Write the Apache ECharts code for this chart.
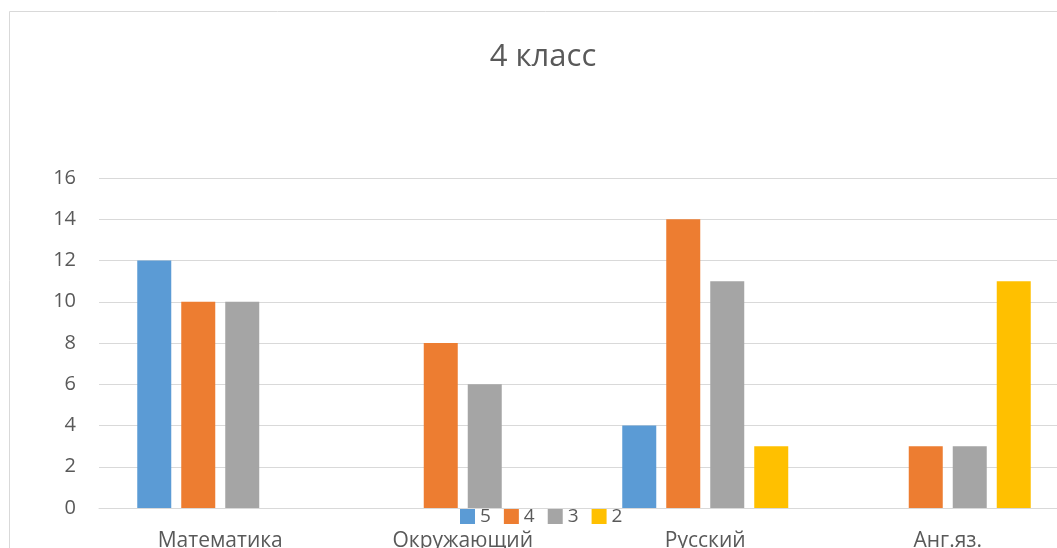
<!DOCTYPE html>
<html>
<head>
<meta charset="utf-8">
<script src="https://cdn.jsdelivr.net/npm/echarts@6/dist/echarts.min.js"></script>
<style>
html,body{margin:0;padding:0;overflow:hidden;background:#fff;}
#c{width:1080px;height:548px;}
</style>
</head>
<body>
<div id="c"></div>
<script>
const categories = ['Математика', 'Окружающий', 'Русский', 'Анг.яз.'];
const seriesNames = ['5', '4', '3', '2'];
const grade5 = [12, 0, 4, 0];
const grade4 = [10, 8, 14, 3];
const grade3 = [10, 6, 11, 3];
const grade2 = [0, 0, 3, 11];
const yTicks = { min: 0, max: 16, interval: 2 };
const colors = ['#5B9BD5', '#ED7D31', '#A5A5A5', '#FFC000'];

const FONT = '"Open Sans"';
const TXT = '#595959';
const chart = echarts.init(document.getElementById('c'), null, { renderer: 'canvas' });
const values = [grade5, grade4, grade3, grade2];
chart.setOption({
  animation: false,
  color: colors,
  textStyle: { fontFamily: FONT },
  title: {
    text: '4 класс',
    left: 538, top: 37, textAlign: 'center',
    textStyle: { fontFamily: FONT, fontSize: 31, fontWeight: 'normal', color: TXT }
  },
  graphic: [{
    type: 'rect', silent: true, z: -1,
    shape: { x: 9.5, y: 11.5, width: 1200, height: 800 },
    style: { fill: 'none', stroke: '#D9D9D9', lineWidth: 1 }
  }],
  legend: {
    data: seriesNames,
    left: 460, top: 507, padding: 0,
    itemWidth: 15, itemHeight: 15, itemGap: 13,
    icon: 'rect',
    textStyle: { fontFamily: FONT, fontSize: 19, color: TXT }
  },
  grid: { left: 99, right: 11, top: 178, bottom: 40, containLabel: false, outerBoundsMode: 'none' },
  xAxis: {
    type: 'category', data: categories,
    axisLine: { lineStyle: { color: '#D9D9D9', width: 1 } },
    axisTick: { show: false },
    axisLabel: { fontFamily: FONT, fontSize: 21, color: TXT, margin: 23, interval: 0 }
  },
  yAxis: {
    type: 'value', min: yTicks.min, max: yTicks.max, interval: yTicks.interval,
    axisLine: { show: false }, axisTick: { show: false },
    splitLine: { lineStyle: { color: '#D9D9D9', width: 1 } },
    axisLabel: { fontFamily: FONT, fontSize: 20, color: TXT, margin: 23 }
  },
  series: seriesNames.map((n, i) => ({
    name: n, type: 'bar', data: values[i],
    barWidth: 34, barGap: '29.4%'
  }))
});
</script>
</body>
</html>
